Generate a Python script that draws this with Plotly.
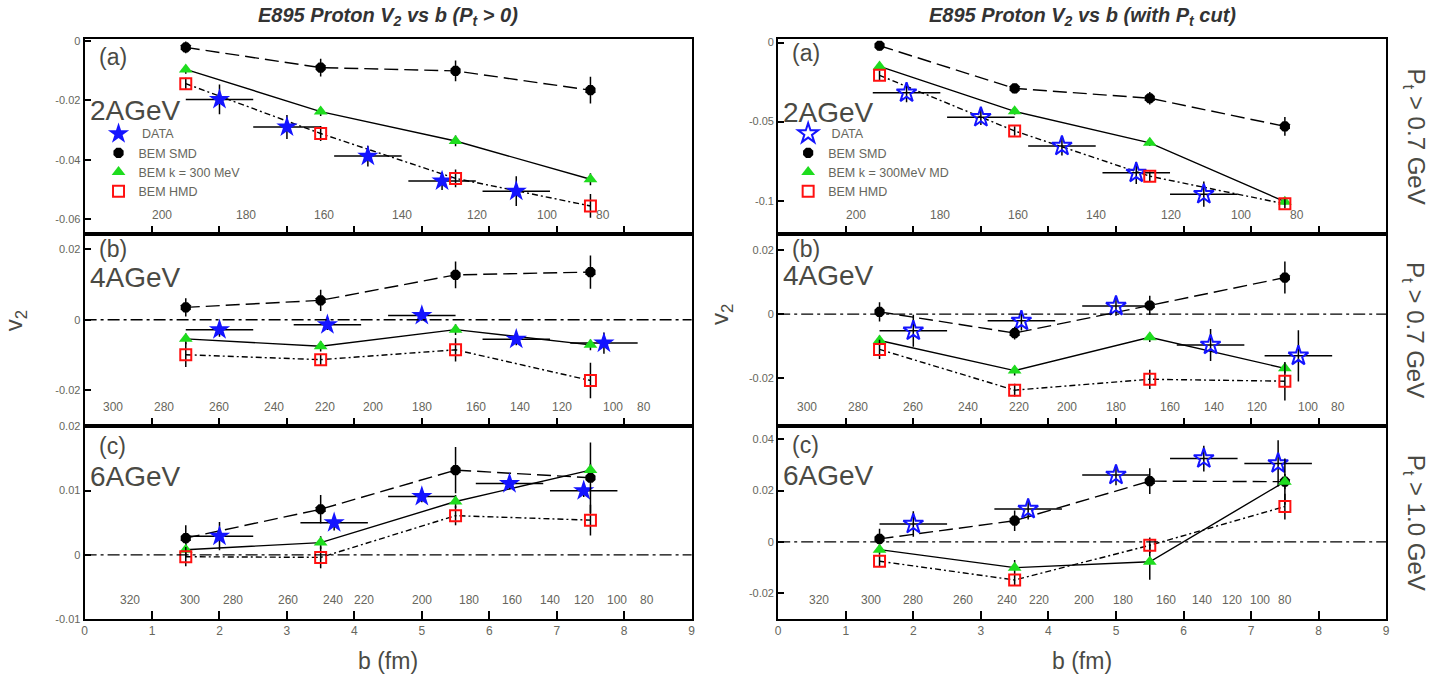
import plotly.graph_objects as go

W, H = 1434, 680

# ---------------- data ----------------
B_MODEL = [1.5, 3.5, 5.5, 7.5]
DATA_BX_ERR = 0.5

# Left column: Pt > 0
L2_SMD = [-0.0022, -0.0090, -0.0101, -0.0166]
L2_SMD_ERR = [0.0020, 0.0030, 0.0035, 0.0045]
L2_K300 = [-0.0096, -0.0238, -0.0337, -0.0466]
L2_K300_ERR = [0.0015, 0.0015, 0.0018, 0.0020]
L2_HMD = [-0.0144, -0.0312, -0.0463, -0.0556]
L2_HMD_ERR = [0.0020, 0.0025, 0.0030, 0.0040]
L2_DATA_B = [2.0, 3.0, 4.2, 5.3, 6.4]
L2_DATA = [-0.0197, -0.0290, -0.0388, -0.0472, -0.0506]
L2_DATA_ERR = [0.0050, 0.0040, 0.0035, 0.0030, 0.0050]

L4_SMD = [0.0035, 0.0055, 0.0127, 0.0135]
L4_SMD_ERR = [0.0026, 0.0030, 0.0038, 0.0047]
L4_K300 = [-0.0054, -0.0075, -0.0028, -0.0071]
L4_K300_ERR = [0.0015, 0.0015, 0.0015, 0.0015]
L4_HMD = [-0.0099, -0.0113, -0.0085, -0.0172]
L4_HMD_ERR = [0.0035, 0.0015, 0.0033, 0.0050]
L4_DATA_B = [2.0, 3.6, 5.0, 6.4, 7.7]
L4_DATA = [-0.0028, -0.0014, 0.0012, -0.0055, -0.0066]
L4_DATA_ERR = [0.0020, 0.0015, 0.0015, 0.0017, 0.0030]

L6_SMD = [0.0026, 0.0071, 0.0132, 0.0120]
L6_SMD_ERR = [0.0020, 0.0022, 0.0036, 0.0055]
L6_K300 = [0.0008, 0.0019, 0.0083, 0.0132]
L6_K300_ERR = [0.0010, 0.0010, 0.0010, 0.0010]
L6_HMD = [-0.0003, -0.0004, 0.0061, 0.0054]
L6_HMD_ERR = [0.0015, 0.0017, 0.0015, 0.0024]
L6_DATA_B = [2.0, 3.7, 5.0, 6.3, 7.4]
L6_DATA = [0.0029, 0.0050, 0.0091, 0.0111, 0.0100]
L6_DATA_ERR = [0.0022, 0.0012, 0.0009, 0.0009, 0.0010]

# Right column: with Pt cut
R2_SMD = [-0.0020, -0.0290, -0.0352, -0.0530]
R2_SMD_ERR = [0.0030, 0.0030, 0.0040, 0.0060]
R2_K300 = [-0.0151, -0.0435, -0.0634, -0.1006]
R2_K300_ERR = [0.0020, 0.0020, 0.0020, 0.0020]
R2_HMD = [-0.0207, -0.0559, -0.0845, -0.1020]
R2_HMD_ERR = [0.0030, 0.0030, 0.0030, 0.0030]
R2_DATA_B = [1.9, 3.0, 4.2, 5.3, 6.3]
R2_DATA = [-0.0317, -0.0472, -0.0654, -0.0824, -0.0959]
R2_DATA_ERR = [0.0060, 0.0050, 0.0060, 0.0070, 0.0080]

R4_SMD = [0.0007, -0.0059, 0.0027, 0.0114]
R4_SMD_ERR = [0.0030, 0.0020, 0.0030, 0.0050]
R4_K300 = [-0.0082, -0.0176, -0.0072, -0.0169]
R4_K300_ERR = [0.0015, 0.0015, 0.0015, 0.0015]
R4_HMD = [-0.0110, -0.0237, -0.0203, -0.0209]
R4_HMD_ERR = [0.0030, 0.0020, 0.0030, 0.0060]
R4_DATA_B = [2.0, 3.6, 5.0, 6.4, 7.7]
R4_DATA = [-0.0052, -0.0021, 0.0025, -0.0096, -0.0130]
R4_DATA_ERR = [0.0050, 0.0030, 0.0030, 0.0050, 0.0080]

R6_SMD = [0.0012, 0.0083, 0.0237, 0.0235]
R6_SMD_ERR = [0.0040, 0.0040, 0.0050, 0.0090]
R6_K300 = [-0.0030, -0.0100, -0.0077, 0.0235]
R6_K300_ERR = [0.0020, 0.0030, 0.0070, 0.0030]
R6_HMD = [-0.0075, -0.0148, -0.0013, 0.0138]
R6_HMD_ERR = [0.0020, 0.0020, 0.0030, 0.0050]
R6_DATA_B = [2.0, 3.7, 5.0, 6.3, 7.4]
R6_DATA = [0.0070, 0.0128, 0.0261, 0.0325, 0.0306]
R6_DATA_ERR = [0.0050, 0.0040, 0.0040, 0.0050, 0.0090]

# secondary (multiplicity) scale labels and their b positions
MULT_A_LABELS = ["200", "180", "160", "140", "120", "100", "80"]
MULT_A_POS = [1.15, 2.40, 3.55, 4.70, 5.82, 6.85, 7.68]
MULT_B_LABELS = ["300", "280", "260", "240", "220", "200", "180", "160", "140", "120", "100", "80"]
MULT_B_POS = [0.42, 1.18, 1.99, 2.81, 3.56, 4.27, 5.00, 5.80, 6.45, 7.08, 7.84, 8.29]
MULT_C_LABELS = ["320", "300", "280", "260", "240", "220", "200", "180", "160", "140", "120", "100", "80"]
MULT_CL_POS = [0.67, 1.56, 2.20, 3.01, 3.68, 4.15, 5.00, 5.70, 6.33, 6.90, 7.40, 7.89, 8.34]
MULT_CR_POS = [0.61, 1.37, 2.00, 2.74, 3.38, 3.86, 4.52, 5.11, 5.74, 6.27, 6.71, 7.13, 7.50]

# axis ticks
X_TICKS = [0, 1, 2, 3, 4, 5, 6, 7, 8, 9]
Y_RANGES = [[-0.065, 0.0005], [-0.0302, 0.0243], [-0.01, 0.02],
            [-0.121, 0.002], [-0.035, 0.025], [-0.03, 0.045]]
Y_TICKVALS = [[0, -0.02, -0.04, -0.06], [0.02, 0, -0.02], [0.02, 0.01, 0, -0.01],
              [0, -0.05, -0.1], [0.02, 0, -0.02], [0.04, 0.02, 0, -0.02]]
Y_TICKTEXT = [["0", "-0.02", "-0.04", "-0.06"], ["0.02", "0", "-0.02"], ["0.02", "0.01", "0", "-0.01"],
              ["0", "-0.05", "-0.1"], ["0.02", "0", "-0.02"], ["0.04", "0.02", "0", "-0.02"]]

ENERGY_LABELS = ["2AGeV", "4AGeV", "6AGeV"]
PANEL_LABELS = ["(a)", "(b)", "(c)"]
PT_LABELS = ["P<sub>t</sub> > 0.7 GeV", "P<sub>t</sub> > 0.7 GeV", "P<sub>t</sub> > 1.0 GeV"]
TITLES = ["E895 Proton V<sub>2</sub> vs b (P<sub>t</sub> > 0)",
          "E895 Proton V<sub>2</sub> vs b (with P<sub>t</sub> cut)"]
LEGEND_NAMES_L = ["\u00a0DATA", "BEM SMD", "BEM k = 300 MeV", "BEM HMD"]
LEGEND_NAMES_R = ["\u00a0DATA", "BEM SMD", "BEM k = 300MeV MD", "BEM HMD"]

PANELS = [
    (L2_SMD, L2_SMD_ERR, L2_K300, L2_K300_ERR, L2_HMD, L2_HMD_ERR, L2_DATA_B, L2_DATA, L2_DATA_ERR),
    (L4_SMD, L4_SMD_ERR, L4_K300, L4_K300_ERR, L4_HMD, L4_HMD_ERR, L4_DATA_B, L4_DATA, L4_DATA_ERR),
    (L6_SMD, L6_SMD_ERR, L6_K300, L6_K300_ERR, L6_HMD, L6_HMD_ERR, L6_DATA_B, L6_DATA, L6_DATA_ERR),
    (R2_SMD, R2_SMD_ERR, R2_K300, R2_K300_ERR, R2_HMD, R2_HMD_ERR, R2_DATA_B, R2_DATA, R2_DATA_ERR),
    (R4_SMD, R4_SMD_ERR, R4_K300, R4_K300_ERR, R4_HMD, R4_HMD_ERR, R4_DATA_B, R4_DATA, R4_DATA_ERR),
    (R6_SMD, R6_SMD_ERR, R6_K300, R6_K300_ERR, R6_HMD, R6_HMD_ERR, R6_DATA_B, R6_DATA, R6_DATA_ERR),
]
MULT = [(MULT_A_LABELS, MULT_A_POS), (MULT_B_LABELS, MULT_B_POS), (MULT_C_LABELS, MULT_CL_POS),
        (MULT_A_LABELS, MULT_A_POS), (MULT_B_LABELS, MULT_B_POS), (MULT_C_LABELS, MULT_CR_POS)]

# ---------------- layout geometry (pixels) ----------------
def px(x):
    return x / W


def py(y):
    return 1 - y / H


COL_PX = [(82, 692), (779, 1390)]
ROW_PX = [(34, 232), (232, 428), (428, 624)]
# centre y of "(a)" and of the energy label, per column and row
PANEL_LAB_Y = [[52, 247, 448], [48, 247, 447]]
ENERGY_LAB_Y = [[106, 276, 479], [108, 274, 478]]
V2_X = [12, 722]
V2_Y = [320, 314]

FONT = "Arial, Liberation Sans, sans-serif"
TXT = "#4a4a44"
TICK_TXT = "#66665c"

fig = go.Figure()
layout = dict(width=W, height=H, margin=dict(l=0, r=0, t=0, b=0),
              paper_bgcolor="white", plot_bgcolor="white", showlegend=True,
              font=dict(family=FONT, color=TXT))
annotations = []
shapes = []


def note(x, y, text, size, color=TXT, angle=0, xanchor="center", yanchor="middle"):
    annotations.append(dict(x=px(x), y=py(y), xref="paper", yref="paper", text=text,
                            showarrow=False, xanchor=xanchor, yanchor=yanchor, textangle=angle,
                            font=dict(size=size, color=color, family=FONT)))


for k in range(6):
    col, row = divmod(k, 3)
    ax = "" if k == 0 else str(k + 1)
    xa, ya = "x" + ax, "y" + ax
    smd, smde, k3, k3e, hmd, hmde, db, dv, dve = PANELS[k]
    leg = "legend" if col == 0 else "legend2"
    names = LEGEND_NAMES_L if col == 0 else LEGEND_NAMES_R
    showleg = row == 0

    # model connecting lines
    fig.add_trace(go.Scatter(x=B_MODEL, y=smd, mode="lines", xaxis=xa, yaxis=ya, showlegend=False,
                             line=dict(color="black", width=1.4, dash="14px,6px"), hoverinfo="skip"))
    fig.add_trace(go.Scatter(x=B_MODEL, y=k3, mode="lines", xaxis=xa, yaxis=ya, showlegend=False,
                             line=dict(color="black", width=1.4), hoverinfo="skip"))
    fig.add_trace(go.Scatter(x=B_MODEL, y=hmd, mode="lines", xaxis=xa, yaxis=ya, showlegend=False,
                             line=dict(color="black", width=1.4, dash="6px,3px,2px,3px"), hoverinfo="skip"))

    # data stars
    star = dict(symbol="star", size=16, color="#1414ff", line=dict(width=0)) if col == 0 else \
        dict(symbol="star-open", size=15, color="#1414ff", line=dict(width=2, color="#1414ff"))
    fig.add_trace(go.Scatter(x=db, y=dv, mode="markers", xaxis=xa, yaxis=ya, name=names[0],
                             legend=leg, showlegend=showleg, marker=star,
                             error_x=dict(type="constant", value=DATA_BX_ERR, color="black", thickness=1.5, width=0),
                             error_y=dict(type="data", array=dve, color="black", thickness=1.5, width=0)))
    fig.add_trace(go.Scatter(x=B_MODEL, y=smd, mode="markers", xaxis=xa, yaxis=ya, name=names[1],
                             legend=leg, showlegend=showleg,
                             marker=dict(symbol="octagon", size=11, color="black"),
                             error_y=dict(type="data", array=smde, color="black", thickness=1.5, width=0)))
    fig.add_trace(go.Scatter(x=B_MODEL, y=k3, mode="markers", xaxis=xa, yaxis=ya, name=names[2],
                             legend=leg, showlegend=showleg,
                             marker=dict(symbol="triangle-up", size=12, color="#1edc1e"),
                             error_y=dict(type="data", array=k3e, color="black", thickness=1.5, width=0)))
    fig.add_trace(go.Scatter(x=B_MODEL, y=hmd, mode="markers", xaxis=xa, yaxis=ya, name=names[3],
                             legend=leg, showlegend=showleg,
                             marker=dict(symbol="square-open", size=11, color="#ff1010",
                                         line=dict(width=2, color="#ff1010")),
                             error_y=dict(type="data", array=hmde, color="black", thickness=1.5, width=0)))

    x0, x1 = COL_PX[col]
    y0, y1 = ROW_PX[row]
    layout["xaxis" + ax] = dict(domain=[px(x0), px(x1)], range=[0, 9], anchor=ya,
                               showline=True, mirror=True, linecolor="black", linewidth=2,
                               ticks="inside", ticklen=8, tickwidth=2, tickcolor="black",
                               tickvals=X_TICKS, ticktext=[str(t) for t in X_TICKS],
                               showticklabels=(row == 2), showgrid=False, zeroline=False,
                               tickfont=dict(size=12, color=TICK_TXT, family=FONT))
    layout["yaxis" + ax] = dict(domain=[py(y1), py(y0)], range=Y_RANGES[k], anchor=xa,
                               showline=True, mirror=True, linecolor="black", linewidth=2,
                               ticks="inside", ticklen=6, tickwidth=2, tickcolor="black",
                               tickvals=Y_TICKVALS[k], ticktext=Y_TICKTEXT[k],
                               showgrid=False, zeroline=False,
                               tickfont=dict(size=11, color=TICK_TXT, family=FONT))

    # zero reference line in (b) and (c)
    if row > 0:
        shapes.append(dict(type="line", xref=xa + " domain", yref=ya, x0=0, x1=1, y0=0, y1=0,
                           line=dict(color="black", width=1.3, dash="12px,4px,3px,4px")))

    # multiplicity scale labels
    labs, poss = MULT[k]
    for lab, pos in zip(labs, poss):
        annotations.append(dict(x=pos, y=0, xref=xa, yref=ya + " domain", text=lab, showarrow=False,
                                xanchor="center", yanchor="bottom", yshift=10,
                                font=dict(size=12, color=TICK_TXT, family=FONT)))

    # panel and energy labels
    note(x0 + 12, PANEL_LAB_Y[col][row], PANEL_LABELS[row], 23, xanchor="left")
    note(x0 + 3, ENERGY_LAB_Y[col][row], ENERGY_LABELS[row], 28, xanchor="left")

    if col == 1:
        note(1418, (y0 + y1) / 2, PT_LABELS[row], 24, angle=90)

# titles, axis titles
for col in range(2):
    x0, x1 = COL_PX[col]
    note((x0 + x1) / 2, 11, "<b><i>" + TITLES[col] + "</i></b>", 20, color="#333333")
    note((x0 + x1) / 2, 667, "b (fm)", 23)
    note(V2_X[col], V2_Y[col], "v<sub>2</sub>", 24, angle=-90)

legend_common = dict(xanchor="left", yanchor="top", bgcolor="rgba(0,0,0,0)", borderwidth=0,
                     font=dict(size=12.5, color="#66665c", family=FONT), itemwidth=30,
                     tracegroupgap=0, itemclick=False)
layout["legend"] = dict(x=px(96), y=py(115), **legend_common)
layout["legend2"] = dict(x=px(789), y=py(115), **legend_common)
layout["annotations"] = annotations
layout["shapes"] = shapes

fig.update_layout(**layout)
fig.write_html("out.html")
